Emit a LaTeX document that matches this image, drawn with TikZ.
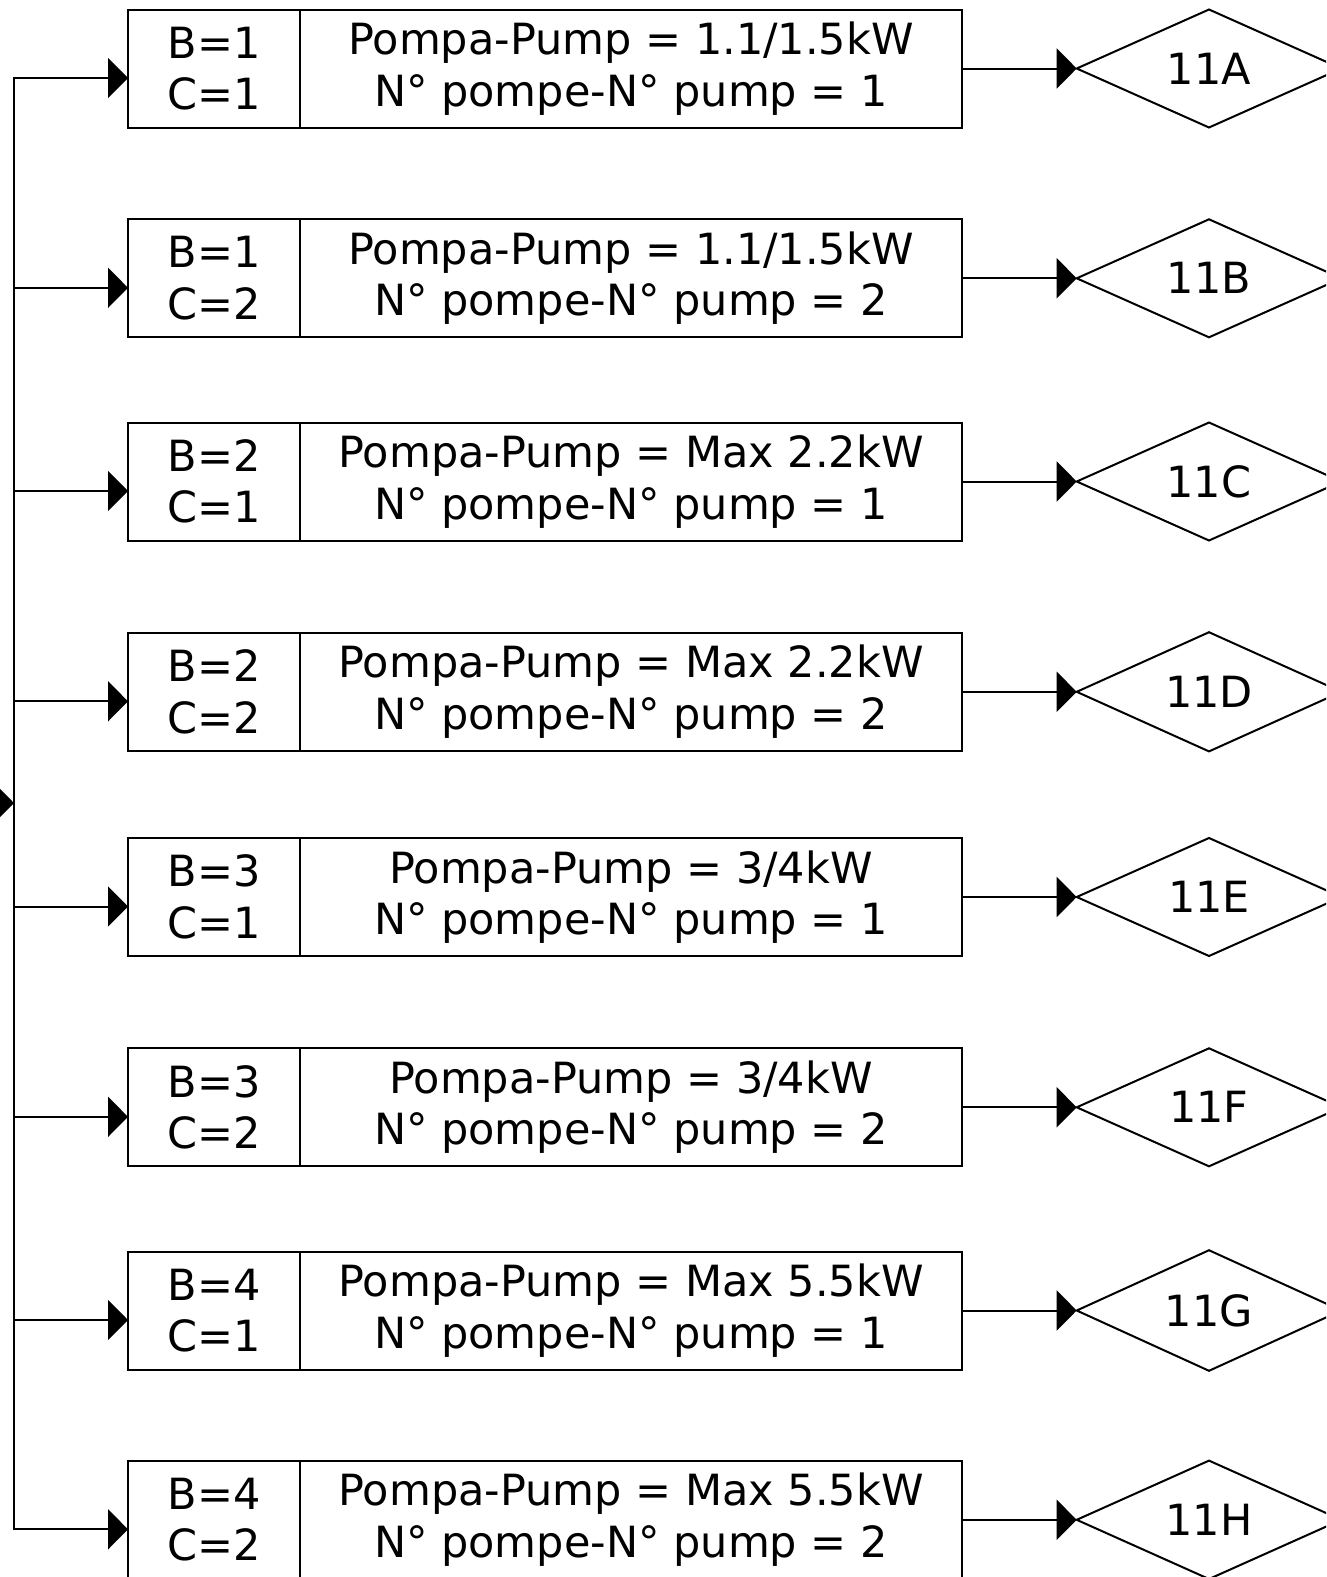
\documentclass[tikz,border=0pt]{standalone}
\usepackage{fontspec}
\setmainfont{DejaVu Sans}
\usetikzlibrary{positioning,arrows.meta,shapes.geometric}
\newcommand{\boxfont}{\fontsize{43}{51.5}\selectfont}
\tikzset{
  cell/.style   ={rectangle, draw=black, line width=2pt, outer sep=0pt, inner sep=0pt,
                  minimum height=118pt, align=center, font=\boxfont},
  bcbox/.style  ={cell, minimum width=172pt, anchor=north west},
  pumpbox/.style={cell, minimum width=662pt},
  outlet/.style ={diamond, draw=black, line width=2pt, outer sep=0pt, inner sep=0pt,
                  minimum width=264.6pt, minimum height=118pt, font=\boxfont},
  arr/.style    ={-{Triangle[length=20pt,width=40pt]}, line width=2pt},
  busline/.style={line width=2pt, line cap=rect},
}

\begin{document}
\begin{tikzpicture}[x=1pt,y=-1pt]
  \useasboundingbox (0,0) rectangle (1326,1577);
  \clip (0,0) rectangle (1326,1577);
  % rows
  \node[bcbox] (bc1) at (128,9.5) {B=1\\C=1};
  \node[pumpbox, right=0pt of bc1] (pump1) {Pompa-Pump = 1.1/1.5kW\\N° pompe-N° pump = 1};
  \node[outlet, right=114.7pt of pump1] (o1) {11A};
  \node[bcbox] (bc2) at (128,219.3) {B=1\\C=2};
  \node[pumpbox, right=0pt of bc2] (pump2) {Pompa-Pump = 1.1/1.5kW\\N° pompe-N° pump = 2};
  \node[outlet, right=114.7pt of pump2] (o2) {11B};
  \node[bcbox] (bc3) at (128,422.5) {B=2\\C=1};
  \node[pumpbox, right=0pt of bc3] (pump3) {Pompa-Pump = Max 2.2kW\\N° pompe-N° pump = 1};
  \node[outlet, right=114.7pt of pump3] (o3) {11C};
  \node[bcbox] (bc4) at (128,632.8) {B=2\\C=2};
  \node[pumpbox, right=0pt of bc4] (pump4) {Pompa-Pump = Max 2.2kW\\N° pompe-N° pump = 2};
  \node[outlet, right=114.7pt of pump4] (o4) {11D};
  \node[bcbox] (bc5) at (128,838) {B=3\\C=1};
  \node[pumpbox, right=0pt of bc5] (pump5) {Pompa-Pump = 3/4kW\\N° pompe-N° pump = 1};
  \node[outlet, right=114.7pt of pump5] (o5) {11E};
  \node[bcbox] (bc6) at (128,1048.3) {B=3\\C=2};
  \node[pumpbox, right=0pt of bc6] (pump6) {Pompa-Pump = 3/4kW\\N° pompe-N° pump = 2};
  \node[outlet, right=114.7pt of pump6] (o6) {11F};
  \node[bcbox] (bc7) at (128,1251.5) {B=4\\C=1};
  \node[pumpbox, right=0pt of bc7] (pump7) {Pompa-Pump = Max 5.5kW\\N° pompe-N° pump = 1};
  \node[outlet, right=114.7pt of pump7] (o7) {11G};
  \node[bcbox] (bc8) at (128,1460.8) {B=4\\C=2};
  \node[pumpbox, right=0pt of bc8] (pump8) {Pompa-Pump = Max 5.5kW\\N° pompe-N° pump = 2};
  \node[outlet, right=114.7pt of pump8] (o8) {11H};
  % feed bus
  \coordinate (feed) at (-20,803);
  \coordinate (j0) at (14,803);
  \coordinate (j1) at (14,78);
  \coordinate (j2) at (14,287.8);
  \coordinate (j3) at (14,491);
  \coordinate (j4) at (14,701.3);
  \coordinate (j5) at (14,906.5);
  \coordinate (j6) at (14,1116.8);
  \coordinate (j7) at (14,1320);
  \coordinate (j8) at (14,1529.3);
  \draw[arr] (feed) -- (j0);
  \draw[busline] (j1) -- (j8);
  \draw[arr] (j1) -- (j1 -| bc1.west);
  \draw[arr] (j2) -- (j2 -| bc2.west);
  \draw[arr] (j3) -- (j3 -| bc3.west);
  \draw[arr] (j4) -- (j4 -| bc4.west);
  \draw[arr] (j5) -- (j5 -| bc5.west);
  \draw[arr] (j6) -- (j6 -| bc6.west);
  \draw[arr] (j7) -- (j7 -| bc7.west);
  \draw[arr] (j8) -- (j8 -| bc8.west);
  % outlets
  \draw[arr] (pump1) -- (o1);
  \draw[arr] (pump2) -- (o2);
  \draw[arr] (pump3) -- (o3);
  \draw[arr] (pump4) -- (o4);
  \draw[arr] (pump5) -- (o5);
  \draw[arr] (pump6) -- (o6);
  \draw[arr] (pump7) -- (o7);
  \draw[arr] (pump8) -- (o8);
\end{tikzpicture}
\end{document}
